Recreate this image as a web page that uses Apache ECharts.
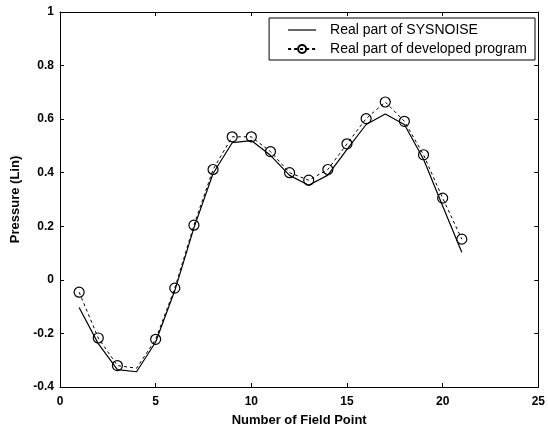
<!DOCTYPE html>
<html>
<head>
<meta charset="utf-8">
<script src="https://cdn.jsdelivr.net/npm/echarts@6/dist/echarts.min.js"></script>
<style>
html, body { margin: 0; padding: 0; background: #fff; }
#chart { width: 548px; height: 432px; }
</style>
</head>
<body>
<div id="chart"></div>
<script>
var fieldPoints = [1, 2, 3, 4, 5, 6, 7, 8, 9, 10, 11, 12, 13, 14, 15, 16, 17, 18, 19, 20, 21];
var sysnoiseReal = [-0.103, -0.238, -0.335, -0.343, -0.232, -0.040, 0.194, 0.397, 0.512, 0.520, 0.465, 0.390, 0.353, 0.391, 0.487, 0.580, 0.619, 0.580, 0.450, 0.276, 0.103];
var programReal = [-0.046, -0.217, -0.320, -0.330, -0.222, -0.031, 0.204, 0.412, 0.534, 0.534, 0.479, 0.400, 0.372, 0.412, 0.508, 0.602, 0.664, 0.592, 0.467, 0.305, 0.152];
// point 4 has no marker visible in the picture
var noMarkAt = [4];
var seriesNames = ["Real part of SYSNOISE", "Real part of developed program"];

var font = "Liberation Sans, Arial, sans-serif";

function pairs(vals){
	return fieldPoints.map(function(x, i){ return [x, vals[i]]; });
}

function merge(a, b){
	var o = {}, k;
	for (k in a) o[k] = a[k];
	for (k in b) o[k] = b[k];
	return o;
}

var chart = echarts.init(document.getElementById("chart"), null, {renderer: "canvas"});

var axisLine = {show: true, onZero: false, lineStyle: {color: "#000", width: 1}};
var tickIn = {show: true, inside: true, length: 4, lineStyle: {color: "#000"}};
var tickLabel = {color: "#000", fontFamily: font, fontSize: 12, fontWeight: "bold"};
var nameStyle = {color: "#000", fontFamily: font, fontSize: 13, fontWeight: "bold"};

chart.setOption({
	animation: false,
	backgroundColor: "#fff",
	grid: {left: 60, right: 9, top: 12, bottom: 43},
	legend: {
		orient: "vertical",
		right: 13,
		top: 18,
		backgroundColor: "#fff",
		borderColor: "#000",
		borderWidth: 1,
		borderRadius: 0,
		padding: [5, 8, 4, 18],
		itemWidth: 28,
		itemHeight: 10,
		itemGap: 5,
		textStyle: {color: "#000", fontFamily: font, fontSize: 14, padding: [0, 0, 0, 9]},
		data: [
			{name: seriesNames[0], icon: "path://M0,0H28V1.2H0Z", itemStyle: {color: "#000", borderWidth: 0}},
			{name: seriesNames[1]}
		]
	},
	xAxis: [{
		type: "value", min: 0, max: 25, interval: 5,
		name: "Number of Field Point", nameLocation: "middle", nameGap: 27,
		nameTextStyle: nameStyle,
		axisLine: axisLine, axisTick: tickIn,
		axisLabel: merge(tickLabel, {margin: 9}),
		splitLine: {show: false}
	}, {
		type: "value", position: "top", min: 0, max: 25, interval: 5,
		axisLine: axisLine, axisTick: tickIn, axisLabel: {show: false}, splitLine: {show: false}
	}],
	yAxis: [{
		type: "value", min: -0.4, max: 1, interval: 0.2,
		name: "Pressure (Lin)", nameLocation: "middle", nameGap: 38,
		nameTextStyle: nameStyle,
		axisLine: axisLine, axisTick: tickIn,
		axisLabel: merge(tickLabel, {margin: 6}),
		splitLine: {show: false}
	}, {
		type: "value", position: "right", min: -0.4, max: 1, interval: 0.2,
		axisLine: axisLine, axisTick: tickIn, axisLabel: {show: false}, splitLine: {show: false}
	}],
	series: [{
		name: seriesNames[0],
		type: "line",
		data: pairs(sysnoiseReal),
		showSymbol: false,
		symbol: "none",
		color: "#000",
		lineStyle: {color: "#000", width: 1.2}
	}, {
		name: seriesNames[1],
		type: "line",
		data: pairs(programReal),
		symbol: function(v){ return noMarkAt.indexOf(v[0]) >= 0 ? "none" : "circle"; },
		symbolSize: 10,
		color: "#000",
		itemStyle: {color: "rgba(255,255,255,0)", borderColor: "#000", borderWidth: 1.2},
		lineStyle: {color: "#000", width: 1, type: [3, 3]}
	}]
});
</script>
</body>
</html>
